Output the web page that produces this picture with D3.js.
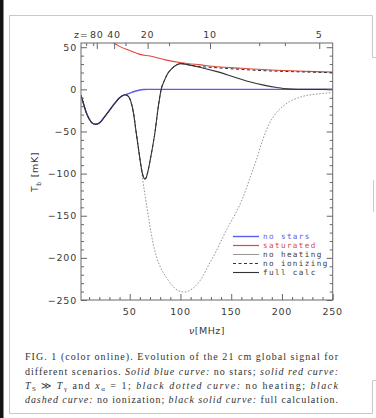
<!DOCTYPE html>
<html>
<head>
<meta charset="utf-8">
<script src="https://cdn.jsdelivr.net/npm/d3@7"></script>
<style>
  html, body { margin: 0; padding: 0; background: #fff; }
  svg { display: block; }
</style>
</head>
<body>
<svg id="fig" width="376" height="418"></svg>
<script>
// ---- data: 21 cm global brightness temperature T_b [mK] vs frequency nu [MHz]
const fullNu = [2, 4, 7, 10, 13, 16, 20, 25, 30, 35, 40, 45, 48, 51, 54, 56, 58, 60, 62, 63.5, 65, 66.5, 68, 70, 72, 75, 78, 81, 84, 87, 91, 96, 101, 108, 120, 136, 152, 168, 182, 195, 205, 215, 250];
const fullT  = [-7, -15, -27, -35, -40, -41.5, -40, -33, -25, -17, -10, -6.5, -7.5, -14, -30, -48, -65, -82, -97, -104, -106.5, -104, -97, -85, -72, -50, -22, 0, 10, 18, 24, 29, 30.5, 29, 26, 21, 15, 9, 5, 2.2, 0.5, 0, 0];

const noStarsNu = [2, 4, 7, 10, 13, 16, 20, 25, 30, 35, 40, 45, 48, 52, 56, 60, 64, 68, 250];
const noStarsT  = [-7, -15, -27, -35, -40, -41.5, -40, -33, -25, -17, -10, -6.5, -5.5, -3.5, -2, -0.8, -0.2, 0, 0];

const saturatedNu = [34, 40, 50, 60, 70, 85, 101, 120, 136, 160, 185, 215, 250];
const saturatedT  = [55.3, 51, 46, 41.5, 39.5, 35, 31.6, 29, 26.9, 25, 23.2, 21.8, 20.5];

const noHeatingNu = [2, 4, 7, 10, 13, 16, 20, 25, 30, 35, 40, 45, 48, 51, 54, 56, 58, 60, 62, 65, 68, 71, 74, 77, 81, 86, 92, 98, 104, 110, 116, 122, 128, 134, 140, 147, 154, 161, 168, 175, 181, 187, 193, 200, 210, 220, 235, 250];
const noHeatingT  = [-7, -15, -27, -35, -40, -41.5, -40, -33, -25, -17, -10, -6.5, -7.5, -14, -30, -48, -65, -82, -100, -125, -148, -170, -188, -201, -213, -223, -233, -239, -240.5, -238, -232, -222, -208, -195, -180, -163, -148, -130, -107, -83, -60, -42, -30, -21, -13, -8.5, -5.5, -4];

const noIonNu = [2, 4, 7, 10, 13, 16, 20, 25, 30, 35, 40, 45, 48, 51, 54, 56, 58, 60, 62, 63.5, 65, 66.5, 68, 70, 72, 75, 78, 81, 84, 87, 91, 96, 101, 110, 120, 136, 160, 185, 210, 250];
const noIonT  = [-7, -15, -27, -35, -40, -41.5, -40, -33, -25, -17, -10, -6.5, -7.5, -14, -30, -48, -65, -82, -97, -104, -106.5, -104, -97, -85, -72, -50, -22, 0, 10, 18, 24, 29, 30.5, 28.6, 27, 25.6, 23.6, 22, 21, 19.8];

// axis ticks
const nuMajor = [50, 100, 150, 200, 250];
const nuMinor = [10, 20, 30, 40, 60, 70, 80, 90, 110, 120, 130, 140, 160, 170, 180, 190, 210, 220, 230, 240];
const tMajor = [50, 0, -50, -100, -150, -200, -250];
const tMinor = [40, 30, 20, 10, -10, -20, -30, -40, -60, -70, -80, -90, -110, -120, -130, -140, -160, -170, -180, -190, -210, -220, -230, -240];
const zMajor = [80, 40, 20, 10, 5];
const zMinor = [200, 100, 30, 15, 7, 6];

const legendLabels = ["no stars", "saturated", "no heating", "no ionizing", "full calc"];

// ---- layout
const svg = d3.select("#fig");
const W = 376, H = 418;
const plotL = 81, plotR = 332.7, plotT = 43, plotB = 300;

const x = d3.scaleLinear().domain([2, 250]).range([plotL, plotR]);
const y = d3.scaleLinear().domain([-250, 55]).range([plotB, plotT]);
const nuOfZ = z => 1420.4 / (1 + z);

const ink = "#3a3a3a";
const blue = "#5b5bf0";
const red = "#e2473c";
const tickFont = "'DejaVu Sans', sans-serif";

// page background: dark strip and card outlines
svg.append("rect").attr("width", W).attr("height", H).attr("fill", "#fff");
svg.append("rect").attr("x", 0).attr("y", 0).attr("width", 3.5).attr("height", H).attr("fill", "#141414");
const card = svg.append("g").attr("fill", "none").attr("stroke", "#c9c9c9").attr("stroke-width", 1);
card.append("path").attr("d", "M9.5,413.5 V15.5 H372.5 V57.5 H376");
card.append("path").attr("d", "M9.5,413.5 H372.5 V380.5 H376");
card.append("path").attr("d", "M373.5,180 V212");

// ---- plot
const clipId = "plotclip";
svg.append("clipPath").attr("id", clipId)
  .append("rect").attr("x", plotL).attr("y", plotT).attr("width", plotR - plotL).attr("height", plotB - plotT);

const line = d3.line().curve(d3.curveMonotoneX).x(d => x(d[0])).y(d => y(d[1]));
const zip = (a, b) => a.map((v, i) => [v, b[i]]);

const curves = svg.append("g").attr("clip-path", `url(#${clipId})`).attr("fill", "none");
curves.append("path").attr("d", line(zip(noStarsNu, noStarsT))).attr("stroke", blue).attr("stroke-width", 1.4);
curves.append("path").attr("d", line(zip(saturatedNu, saturatedT))).attr("stroke", red).attr("stroke-width", 1.1);
curves.append("path").attr("d", line(zip(noHeatingNu, noHeatingT))).attr("stroke", "#8a8a8a").attr("stroke-width", 0.9).attr("stroke-dasharray", "1.6,1.6");
curves.append("path").attr("d", line(zip(noIonNu, noIonT))).attr("stroke", "#333").attr("stroke-width", 1).attr("stroke-dasharray", "3,2.5");
curves.append("path").attr("d", line(zip(fullNu, fullT))).attr("stroke", "#333").attr("stroke-width", 1.1);

// frame
svg.append("rect").attr("x", plotL).attr("y", plotT).attr("width", plotR - plotL).attr("height", plotB - plotT)
  .attr("fill", "none").attr("stroke", "#6a6a6a").attr("stroke-width", 1);

// inward ticks on all four sides
function ticks(axisFn, scale, values, size, tx, ty) {
  const g = svg.append("g").attr("transform", `translate(${tx},${ty})`)
    .call(axisFn(scale).tickValues(values).tickSize(size).tickFormat(""));
  g.select(".domain").remove();
  g.selectAll("line").attr("stroke", "#666").attr("stroke-width", 1);
  return g;
}
ticks(d3.axisBottom, x, nuMajor, -6, 0, plotB);
ticks(d3.axisBottom, x, nuMinor, -3, 0, plotB);
ticks(d3.axisLeft, y, tMajor, -6, plotL, 0);
ticks(d3.axisLeft, y, tMinor, -3, plotL, 0);
ticks(d3.axisRight, y, tMajor, -6, plotR, 0);
ticks(d3.axisRight, y, tMinor, -3, plotR, 0);
// top redshift axis, ticks placed at nu(z)
ticks(d3.axisTop, x, zMajor.map(nuOfZ), -6, 0, plotT);
ticks(d3.axisTop, x, zMinor.map(nuOfZ), -3, 0, plotT);

// tick labels
const lab = svg.append("g").attr("fill", ink).attr("font-family", tickFont).attr("font-size", 9.5).attr("letter-spacing", 0.8);
lab.selectAll(".xl").data(nuMajor).join("text")
  .attr("x", d => x(d)).attr("y", 314.5).attr("text-anchor", "middle").text(d => d);
lab.selectAll(".yl").data(tMajor).join("text")
  .attr("x", 77).attr("y", d => y(d) + 3.5).attr("text-anchor", "end")
  .text(d => d < 0 ? "\u2212" + Math.abs(d) : d);
lab.selectAll(".zl").data(zMajor).join("text")
  .attr("x", d => x(nuOfZ(d))).attr("y", 37.5).attr("text-anchor", "middle").text(d => d);
lab.append("text").attr("x", 88.5).attr("y", 37.5).attr("text-anchor", "end").text("z=");

// axis titles
const yt = svg.append("text").attr("transform", "translate(38,172) rotate(-90)")
  .attr("text-anchor", "middle").attr("fill", ink).attr("font-family", tickFont).attr("font-size", 9.5).attr("letter-spacing", 0.6);
yt.append("tspan").text("T");
yt.append("tspan").attr("font-size", 6.5).attr("dy", 2.5).text("b");
yt.append("tspan").attr("dy", -2.5).text(" [mK]");

const xt = svg.append("text").attr("x", 207).attr("y", 334).attr("text-anchor", "middle")
  .attr("fill", ink).attr("font-family", tickFont).attr("font-size", 9.5).attr("letter-spacing", 0.5);
xt.append("tspan").attr("font-style", "italic").text("\u03bd");
xt.append("tspan").text("[MHz]");

// legend
const legendStyles = [
  { stroke: blue, width: 1.4, dash: null, color: blue },
  { stroke: red, width: 1.2, dash: null, color: red },
  { stroke: "#8a8a8a", width: 0.9, dash: null, color: ink },
  { stroke: "#333", width: 1, dash: "3,2.5", color: ink },
  { stroke: "#333", width: 1.1, dash: null, color: ink }
];
const lg = svg.append("g");
legendLabels.forEach((name, i) => {
  const yy = 236.5 + i * 9;
  const s = legendStyles[i];
  lg.append("line").attr("x1", 233).attr("x2", 259).attr("y1", yy).attr("y2", yy)
    .attr("stroke", s.stroke).attr("stroke-width", s.width).attr("stroke-dasharray", s.dash);
  lg.append("text").attr("x", 263).attr("y", yy + 2.8).attr("fill", s.color)
    .attr("font-family", "'DejaVu Sans Mono', monospace").attr("font-size", 7.6)
    .attr("letter-spacing", 1.4).text(name);
});

// caption
const cap = svg.append("g").attr("fill", "#333").attr("font-family", "'Liberation Serif', serif").attr("font-size", 10);
const capLines = [
  [["FIG. 1 (color online).   Evolution of the 21 cm global signal for", null]],
  [["different scenarios. ", null], ["Solid blue curve:", "i"], [" no stars; ", null], ["solid red curve:", "i"]],
  [["T", "i"], ["S", "sub"], [" \u226b ", null], ["T", "i"], ["\u03b3", "sub"], [" and ", null], ["x", "i"], ["\u03b1", "sub"], [" = 1; ", null], ["black dotted curve:", "i"], [" no heating; ", null], ["black", "i"]],
  [["dashed curve:", "i"], [" no ionization; ", null], ["black solid curve:", "i"], [" full calculation.", null]]
];
const capY = [360, 374.5, 388.5, 402.5];
capLines.forEach((parts, i) => {
  const t = cap.append("text").attr("x", 25).attr("y", capY[i])
    .attr("textLength", 313).attr("lengthAdjust", "spacing");
  let sub = false;
  parts.forEach(([str, kind]) => {
    const sp = t.append("tspan").text(str);
    if (kind === "i") sp.attr("font-style", "italic");
    if (kind === "sub") { sp.attr("font-size", 7).attr("dy", 2.5); sub = true; }
    else if (sub) { sp.attr("dy", -2.5); sub = false; }
  });
});
</script>
</body>
</html>
